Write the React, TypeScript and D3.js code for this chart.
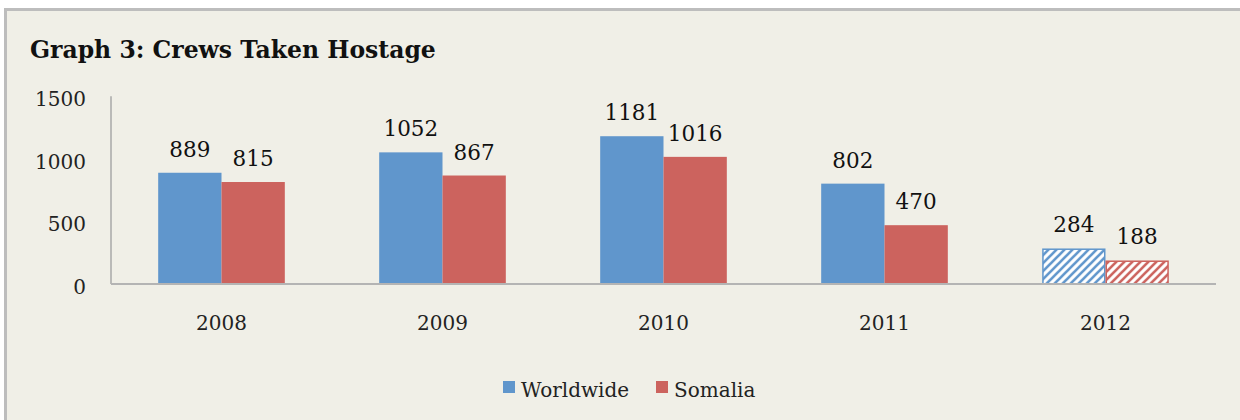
import React from "react";
import * as d3 from "d3";

const years = ["2008", "2009", "2010", "2011", "2012"];
const worldwide = [889, 1052, 1181, 802, 284];
const somalia = [815, 867, 1016, 470, 188];
const seriesNames = ["Worldwide", "Somalia"];
const yTicks = [0, 500, 1000, 1500];
const hatchedYears = ["2012"];

const W = 1240;
const H = 420;
const colors = ["#6096cc", "#cc635e"];
const font = "'DejaVu Serif', serif";

export default function App() {
  const x0 = d3
    .scaleBand<string>()
    .domain(years)
    .range([111, 1216])
    .paddingInner(0.427)
    .paddingOuter(0.2135);
  const x1 = d3
    .scaleBand<string>()
    .domain(seriesNames)
    .range([0, x0.bandwidth()])
    .padding(0);
  const y = d3.scaleLinear().domain([0, 1500]).range([284, 96.3]);

  const series = [worldwide, somalia];

  return (
    <svg
      width={W}
      height={H}
      style={{ position: "absolute", left: 0, top: 0, display: "block" }}
      xmlns="http://www.w3.org/2000/svg"
    >
      <defs>
        {colors.map((c, i) => (
          <pattern
            key={i}
            id={`hatch${i}`}
            patternUnits="userSpaceOnUse"
            width={8}
            height={8}
          >
            <rect width={8} height={8} fill="#ffffff" />
            <path
              d="M-2,2 l4,-4 M0,8 l8,-8 M6,10 l4,-4"
              stroke={c}
              strokeWidth={2.6}
            />
          </pattern>
        ))}
      </defs>
      <rect x={0} y={0} width={W} height={H} fill="#ffffff" />
      <rect
        x={5.5}
        y={9.5}
        width={W + 20}
        height={H + 20}
        fill="#f0efe7"
        stroke="#bdbdbd"
        strokeWidth={3}
      />
      <text
        x={30}
        y={58}
        fontFamily={font}
        fontWeight="bold"
        fontSize={23.5}
        fill="#111"
      >
        Graph 3: Crews Taken Hostage
      </text>

      {/* y axis ticks */}
      {yTicks.map((t) => (
        <text
          key={t}
          x={86}
          y={y(t) + 10}
          textAnchor="end"
          fontFamily={font}
          fontSize={20}
          fill="#222"
        >
          {t}
        </text>
      ))}
      <line
        x1={111}
        x2={111}
        y1={y(1500)}
        y2={y(0)}
        stroke="#a8a8a8"
        strokeWidth={1.5}
      />

      {/* bars */}
      {years.map((yr, i) => (
        <g key={yr} transform={`translate(${x0(yr)},0)`}>
          {seriesNames.map((s, j) => {
            const v = series[j][i];
            const hatched = hatchedYears.includes(yr);
            const bx = x1(s)!;
            const bw = x1.bandwidth();
            return (
              <g key={s}>
                <rect
                  x={hatched ? bx + 0.75 : bx}
                  y={y(v) + (hatched ? 0.75 : 0)}
                  width={hatched ? bw - 1.5 : bw}
                  height={y(0) - y(v) - (hatched ? 0.75 : 0)}
                  fill={hatched ? `url(#hatch${j})` : colors[j]}
                  stroke={hatched ? colors[j] : "none"}
                  strokeWidth={hatched ? 1.5 : 0}
                />
                <text
                  x={bx + bw / 2}
                  y={y(v) - 16}
                  textAnchor="middle"
                  fontFamily={font}
                  fontSize={21.5}
                  fill="#111"
                >
                  {v}
                </text>
              </g>
            );
          })}
          <text
            x={x0.bandwidth() / 2}
            y={330}
            textAnchor="middle"
            fontFamily={font}
            fontSize={20}
            fill="#222"
          >
            {yr}
          </text>
        </g>
      ))}

      <line
        x1={111}
        x2={1216}
        y1={y(0)}
        y2={y(0)}
        stroke="#b4b4b4"
        strokeWidth={2.2}
      />

      {/* legend */}
      {seriesNames.map((s, j) => {
        const lx = [503, 656][j];
        return (
          <g key={s}>
            <rect x={lx} y={381} width={12} height={12} fill={colors[j]} />
            <text
              x={lx + 18}
              y={397}
              fontFamily={font}
              fontSize={20}
              fill="#222"
            >
              {s}
            </text>
          </g>
        );
      })}
    </svg>
  );
}
